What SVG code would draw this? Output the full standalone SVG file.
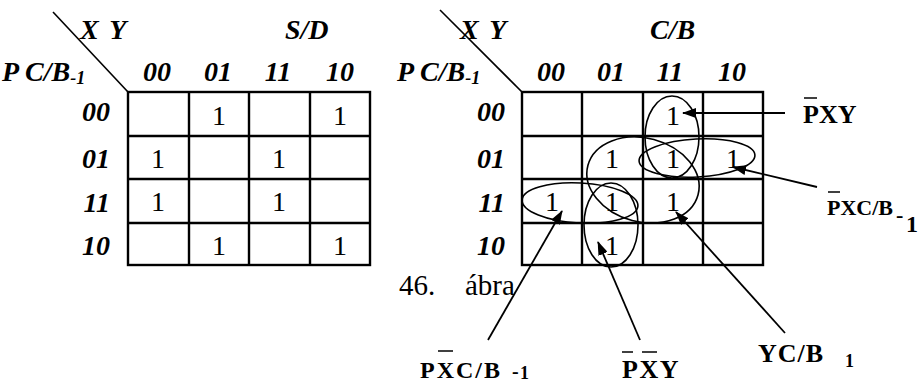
<svg xmlns="http://www.w3.org/2000/svg" width="922" height="383" viewBox="0 0 922 383">
<defs>
<style>
.hd{font-family:"Liberation Serif","Times New Roman",serif;font-weight:bold;font-style:italic;font-size:28px;fill:#000}
.sub{font-size:18px}
.one{font-family:"Liberation Serif","Times New Roman",serif;font-size:28px;fill:#000;text-anchor:middle}
.lb{font-family:"Liberation Serif","Times New Roman",serif;font-weight:bold;fill:#000}
.cap{font-family:"Liberation Serif","Times New Roman",serif;font-size:29px;fill:#000}
.grid{fill:none;stroke:#000;stroke-width:2.4}
.loop{fill:none;stroke:#000;stroke-width:1.6}
.ar{fill:none;stroke:#000;stroke-width:1.8;marker-end:url(#ah)}
.bar{stroke:#000;stroke-width:1.5}
</style>
<marker id="ah" viewBox="0 0 14 10" refX="13" refY="5" markerWidth="14" markerHeight="10" markerUnits="userSpaceOnUse" orient="auto">
<path d="M0,0 L14,5 L0,10 z" fill="#000"/>
</marker>
</defs>

<g id="map-left">
<line x1="53" y1="12" x2="128" y2="92" stroke="#000" stroke-width="1.6"/>
<text class="hd" x="80" y="39" letter-spacing="2">X Y</text>
<text class="hd" x="285" y="39">S/D</text>
<text class="hd" x="2" y="81">P C/B<tspan class="sub" dy="3">-1</tspan></text>
<g class="hd" text-anchor="middle">
<text x="157" y="81">00</text><text x="218" y="81">01</text><text x="278" y="81">11</text><text x="340" y="81">10</text>
</g>
<g class="hd" text-anchor="end">
<text x="110" y="121">00</text><text x="110" y="168">01</text><text x="110" y="212">11</text><text x="110" y="255">10</text>
</g>
<rect class="grid" x="128" y="92" width="242" height="173"/>
<path class="grid" d="M189,92V265M249,92V265M310,92V265M128,136H370M128,179H370M128,223H370"/>
<g class="one">
<text x="219" y="125">1</text><text x="340" y="125">1</text>
<text x="158" y="168">1</text><text x="279" y="168">1</text>
<text x="158" y="211">1</text><text x="279" y="211">1</text>
<text x="219" y="255">1</text><text x="340" y="255">1</text>
</g>
</g>

<g id="map-right">
<line x1="440" y1="10" x2="522" y2="92" stroke="#000" stroke-width="1.6"/>
<text class="hd" x="460" y="39" letter-spacing="2">X Y</text>
<text class="hd" x="650" y="39">C/B</text>
<text class="hd" x="397" y="81">P C/B<tspan class="sub" dy="3">-1</tspan></text>
<g class="hd" text-anchor="middle">
<text x="551" y="81">00</text><text x="611" y="81">01</text><text x="670" y="81">11</text><text x="732" y="81">10</text>
</g>
<g class="hd" text-anchor="end">
<text x="505" y="121">00</text><text x="505" y="168">01</text><text x="505" y="212">11</text><text x="505" y="255">10</text>
</g>
<rect class="grid" x="522" y="92" width="241" height="173"/>
<path class="grid" d="M582,92V265M643,92V265M703,92V265M522,136H763M522,179H763M522,223H763"/>
<g class="one">
<text x="673" y="125">1</text>
<text x="612" y="168">1</text><text x="673" y="168">1</text><text x="733" y="168">1</text>
<text x="552" y="211">1</text><text x="612" y="211">1</text><text x="673" y="211">1</text>
<text x="612" y="255">1</text>
</g>
</g>

<g id="loops">
<ellipse class="loop" cx="672" cy="137" rx="27" ry="41"/>
<ellipse class="loop" cx="697" cy="158" rx="58" ry="19" transform="rotate(-3 697 158)"/>
<ellipse class="loop" cx="643" cy="180" rx="57" ry="42" transform="rotate(15 643 180)"/>
<ellipse class="loop" cx="580" cy="203" rx="58" ry="20" transform="rotate(3 580 203)"/>
<ellipse class="loop" cx="611" cy="225" rx="27" ry="42"/>
</g>

<g id="connectors">
<line class="ar" x1="785" y1="113" x2="683" y2="113"/>
<line class="ar" x1="817" y1="187" x2="733" y2="167"/>
<line class="ar" x1="785" y1="333" x2="676" y2="212"/>
<line class="ar" x1="488" y1="340" x2="562" y2="211"/>
<line class="ar" x1="640" y1="340" x2="598" y2="242"/>
</g>

<g id="label-pxy-top">
<text class="lb" x="803" y="123" font-size="26">PXY</text>
<line class="bar" x1="804" y1="98" x2="817" y2="98"/>
</g>
<g id="label-pxcb-right">
<text class="lb" x="827" y="215" font-size="22">PXC/B</text>
<text class="lb" x="896" y="222" font-size="22">-</text>
<text class="lb" x="906" y="232" font-size="24">1</text>
<line class="bar" x1="828" y1="192" x2="840" y2="192"/>
</g>
<g id="label-pxcb-bottom">
<text class="lb" x="420" y="378" font-size="24" letter-spacing="2">PXC/B</text>
<text class="lb" x="512" y="378" font-size="20">-</text>
<text class="lb" x="520" y="379" font-size="18">1</text>
<line class="bar" x1="438" y1="351" x2="453" y2="351"/>
</g>
<g id="label-pxy-bottom">
<text class="lb" x="622" y="378" font-size="26" letter-spacing="1.5">PXY</text>
<line class="bar" x1="622" y1="352" x2="633" y2="352"/>
<line class="bar" x1="642" y1="352" x2="657" y2="352"/>
</g>
<g id="label-ycb">
<text class="lb" x="758" y="362" font-size="26" letter-spacing="1">YC/B</text>
<text class="lb" x="845" y="367" font-size="18">1</text>
</g>
<g id="caption">
<text class="cap" x="399" y="295">46.</text>
<text class="cap" x="465" y="295">ábra</text>
</g>
</svg>
